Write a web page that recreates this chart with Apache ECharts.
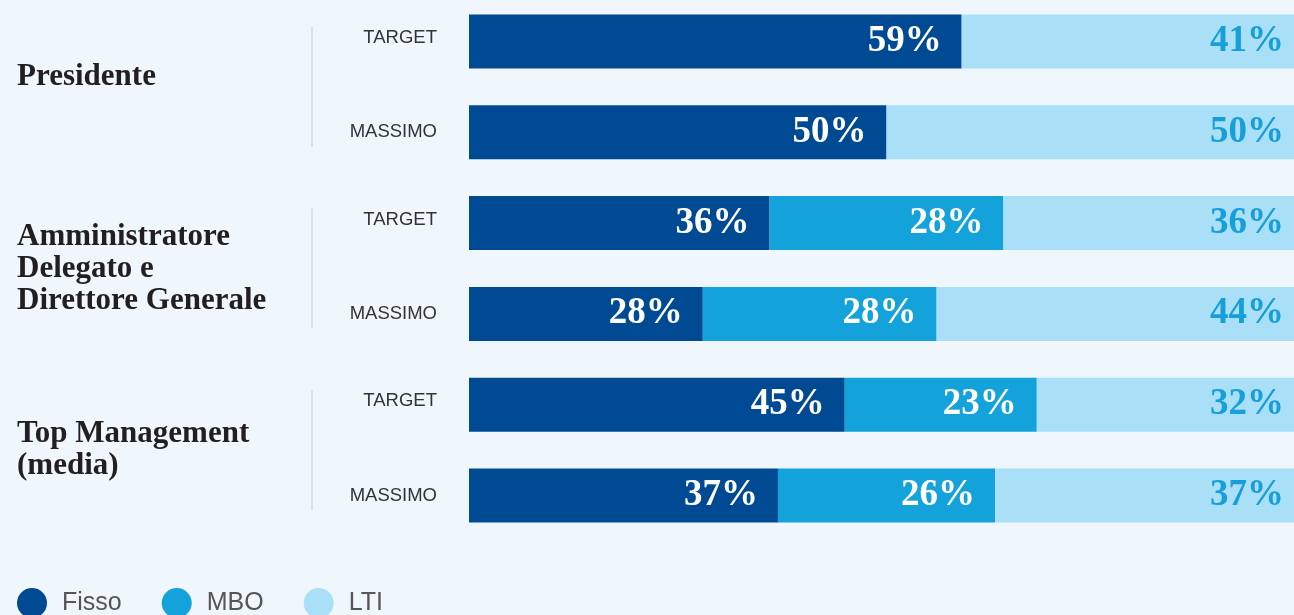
<!DOCTYPE html>
<html>
<head>
<meta charset="utf-8">
<script src="https://cdn.jsdelivr.net/npm/echarts@6/dist/echarts.min.js"></script>
<style>
html,body{margin:0;padding:0;background:#eff7fd;}
#c{width:1294px;height:615px;}
</style>
</head>
<body>
<div id="c"></div>
<script>
const rowLabels = ['TARGET', 'MASSIMO', 'TARGET', 'MASSIMO', 'TARGET', 'MASSIMO'];
const groupLabels = ['Presidente', 'Amministratore\nDelegato e\nDirettore Generale', 'Top Management\n(media)'];
const seriesNames = ['Fisso', 'MBO', 'LTI'];
const fisso = [59, 50, 36, 28, 45, 37];
const mbo = [0, 0, 28, 28, 23, 26];
const lti = [41, 50, 36, 44, 32, 37];

const colors = ['#004a93', '#13a2da', '#aadff8'];
const labelColors = ['#ffffff', '#ffffff', '#169fd8'];
const values = [fisso, mbo, lti];
const sans = 'Liberation Sans, Arial, sans-serif';
const serif = 'Liberation Serif, Times New Roman, serif';

const chart = echarts.init(document.getElementById('c'));
const option = {
  backgroundColor: '#eff7fd',
  animation: false,
  grid: { left: 469, right: -10, top: -4, bottom: 74, containLabel: false, outerBoundsMode: 'none' },
  legend: {
    left: 17, top: 588, padding: 0, icon: 'circle', itemWidth: 30, itemHeight: 30, itemGap: 40,
    data: seriesNames,
    textStyle: { fontFamily: sans, fontSize: 25, color: '#555', padding: [0, 0, 0, 10] }
  },
  xAxis: { type: 'value', min: 0, max: 100, show: false },
  yAxis: [
    {
      type: 'category', inverse: true, data: rowLabels,
      axisLine: { show: false }, axisTick: { show: false },
      axisLabel: {
        margin: 32, fontFamily: sans, fontSize: 18.5, color: '#333',
        formatter: function (v) { return v === 'TARGET' ? '{t|' + v + '}' : v; },
        rich: { t: { fontFamily: sans, fontSize: 18.5, color: '#333', padding: [0, 0, 7, 0] } }
      }
    },
    {
      type: 'category', inverse: true, data: groupLabels, position: 'left', offset: 0,
      axisLine: { show: false }, axisTick: { show: false },
      axisLabel: {
        margin: 452, align: 'left',
        fontFamily: serif, fontWeight: 'bold', fontSize: 31,
        lineHeight: 32, color: '#231f20',
        formatter: function (v, i) { return i === 0 ? '{p|' + v + '}' : v; },
        rich: { p: { fontFamily: serif, fontWeight: 'bold', fontSize: 31, color: '#231f20', padding: [0, 0, 20, 0] } }
      }
    }
  ],
  series: seriesNames.map(function (name, k) {
    return {
      name: name, type: 'bar', stack: 'total', barWidth: 54,
      itemStyle: { color: colors[k] },
      label: {
        show: true, position: 'insideRight', distance: 20,
        fontFamily: serif, fontWeight: 'bold', fontSize: 37,
        color: labelColors[k],
        formatter: function (p) { return p.value ? p.value + '%' : ''; }
      },
      data: values[k]
    };
  })
};
chart.setOption(option);

// group separators, derived from the category axis positions
const lines = [];
for (let g = 0; g < 3; g++) {
  const y1 = chart.convertToPixel({ yAxisIndex: 0 }, g * 2);
  const y2 = chart.convertToPixel({ yAxisIndex: 0 }, g * 2 + 1);
  const mid = (y1 + y2) / 2;
  lines.push({
    type: 'line', z: 10,
    shape: { x1: 312, y1: mid - 60, x2: 312, y2: mid + 60 },
    style: { stroke: '#d3dadf', lineWidth: 1.5 }
  });
}
chart.setOption({ graphic: lines });
</script>
</body>
</html>
